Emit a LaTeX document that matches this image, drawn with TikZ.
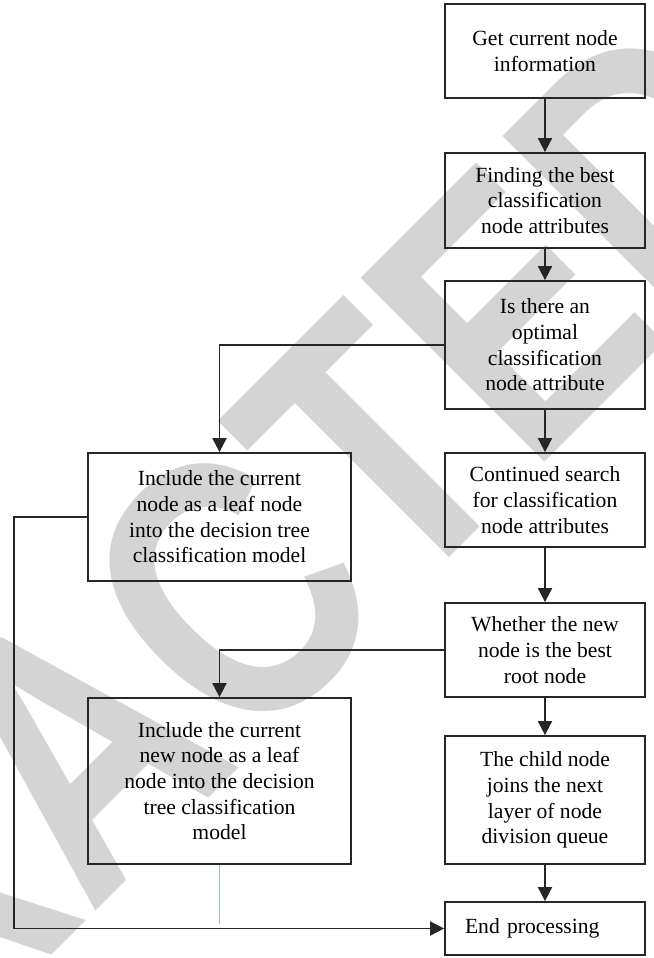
\documentclass[tikz,border=0pt]{standalone}
\usepackage{fontspec}
\setmainfont{Liberation Serif}
\newfontfamily\wmfont{Liberation Sans}
\usetikzlibrary{arrows.meta}
\definecolor{wmgray}{RGB}{212,212,212}
\definecolor{linegray}{RGB}{38,38,38}
\definecolor{paleblue}{RGB}{150,190,232}
\tikzset{
  box/.style={draw=linegray, line width=1pt, align=center, inner sep=1pt,
    font=\fontsize{12.3}{14.6}\selectfont},
  rbox/.style={box, minimum width=4cm},
  lbox/.style={box, minimum width=5.26cm},
  flow/.style={draw=linegray, line width=1pt, -{Triangle[width=8pt,length=8pt]}},
  wmtext/.style={text=wmgray, inner sep=0pt, rotate=45, xscale=0.8,
    font=\wmfont\bfseries\fontsize{215}{215}\selectfont}
}
\begin{document}
\begin{tikzpicture}
      \useasboundingbox (0,0) rectangle (13.08,-19.16);
      \begin{scope}
        \clip (0,0) rectangle (13.08,-19.16);
        \coordinate (wmC) at (4.9,-15.24);
        \node[wmtext, anchor=base east] (wmA) at (wmC) {RETRA};
        \node[wmtext, anchor=base west] (wmB) at (wmC) {CTED};
      \end{scope}
      \node[rbox, minimum height=1.88cm] (get) at (10.9,-1.02) {Get current node\\information};
      \node[rbox, minimum height=1.9cm] (find) at (10.9,-4.01) {Finding the best\\classification\\node attributes};
      \node[rbox, minimum height=2.56cm] (opt) at (10.9,-6.9) {Is there an\\optimal\\classification\\node attribute};
      \node[rbox, minimum height=1.88cm] (search) at (10.9,-10.0) {Continued search\\for classification\\node attributes};
      \node[rbox, minimum height=1.88cm] (root) at (10.9,-13.0) {Whether the new\\node is the best\\root node};
      \node[rbox, minimum height=2.56cm] (child) at (10.9,-16.0) {The child node\\joins the next\\layer of node\\division queue};
      \node[rbox, minimum height=1.06cm, align=left, text width=3.2cm, inner xsep=0.4cm] (end) at (10.9,-18.57) {End processing};
      \node[lbox, minimum height=2.56cm] (leaf) at (4.39,-10.34) {Include the current\\node as a leaf node\\into the decision tree\\classification model};
      \node[lbox, minimum height=3.32cm] (newleaf) at (4.39,-15.62) {Include the current\\new node as a leaf\\node into the decision\\tree classification\\model};
      \coordinate (stub) at (4.39,-18.48);
      \begin{scope}[flow]
        \draw (get) to (find);
        \draw (find) to (opt);
        \draw (opt) to (search);
        \draw (search) to (root);
        \draw (root) to (child);
        \draw (child) to (end);
        \draw (opt.west) -| (leaf.north);
        \draw (root.west) -| (newleaf.north);
        \draw (leaf.west) -- ++(-1.46,0) |- (end.west);
      \end{scope}
      \draw[paleblue, line width=1.1pt] (newleaf.south) -- (stub);
    \end{tikzpicture}
\end{document}
